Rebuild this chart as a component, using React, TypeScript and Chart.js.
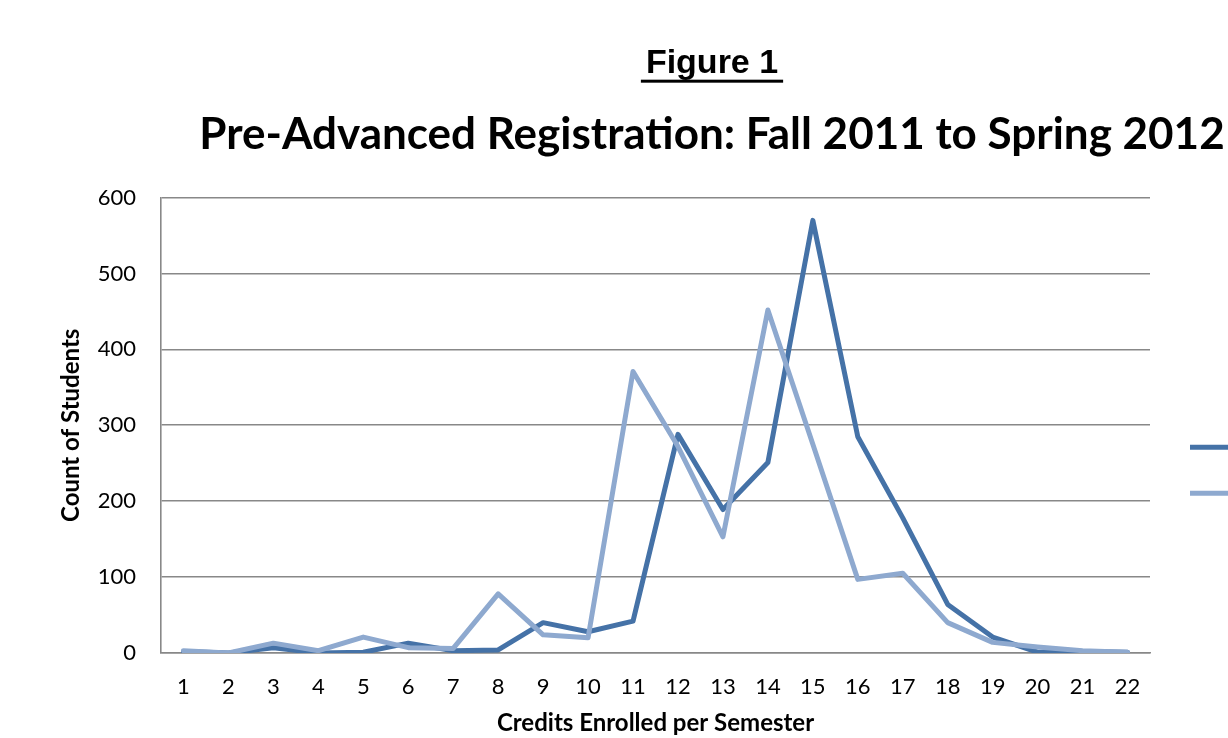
import { useEffect, useRef } from "react";
import { Chart, registerables } from "chart.js";

Chart.register(...registerables);

// Categories: credits enrolled per semester
const credits: string[] = [
  "1", "2", "3", "4", "5", "6", "7", "8", "9", "10", "11",
  "12", "13", "14", "15", "16", "17", "18", "19", "20", "21", "22",
];

// Series values (count of students)
const fall2011: number[] = [
  2, 0, 7, 0, 1, 13, 3, 4, 40, 28, 42, 288, 189, 251, 570, 285, 178, 64, 21, 1, 2, 1,
];
const spring2012: number[] = [
  3, 0, 13, 3, 21, 7, 6, 78, 24, 20, 371, 272, 153, 452, 275, 97, 105, 40, 14, 8, 3, 1,
];

const seriesNames: string[] = ["Fall 2011", "Spring 2012"];
const figureLabel = "Figure 1";
const chartTitle = "Pre-Advanced Registration: Fall 2011 to Spring 2012";
const yAxisTitle = "Count of Students";
const xAxisTitle = "Credits Enrolled per Semester";
const yMin = 0;
const yMax = 600;
const yStep = 100;

const W = 1424;
const H = 760;

export default function App() {
  const ref = useRef<HTMLCanvasElement>(null);

  useEffect(() => {
    if (!ref.current) return;

    const underline = {
      id: "figUnderline",
      afterDraw(chart: any) {
        const tb = chart.titleBlock;
        if (!tb) return;
        const ctx = chart.ctx;
        ctx.save();
        ctx.font = "bold 34px 'Liberation Sans', Arial, sans-serif";
        const w = ctx.measureText(figureLabel).width;
        const cx = (tb.left + tb.right) / 2;
        const baseline = tb.top + 43 + 40.8 / 2 + 0.3465 * 34;
        ctx.fillStyle = "#000";
        ctx.fillRect(cx - w / 2 - 5, baseline + 4.5, w + 10, 3);
        ctx.restore();
      },
    };

    const chart = new Chart(ref.current, {
      type: "line",
      data: {
        labels: credits,
        datasets: [
          {
            label: seriesNames[0],
            data: fall2011,
            borderColor: "#4572A7",
            backgroundColor: "#4572A7",
            borderWidth: 5,
            pointRadius: 0,
            pointHoverRadius: 0,
            tension: 0,
            borderCapStyle: "round",
            borderJoinStyle: "round",
            order: 1,
          },
          {
            label: seriesNames[1],
            data: spring2012,
            borderColor: "#8EA9CF",
            backgroundColor: "#8EA9CF",
            borderWidth: 5,
            pointRadius: 0,
            pointHoverRadius: 0,
            tension: 0,
            borderCapStyle: "round",
            borderJoinStyle: "round",
            order: 0,
          },
        ],
      },
      options: {
        responsive: false,
        animation: false,
        layout: { padding: { left: 0, right: 0, top: 0, bottom: 0 } },
        scales: {
          x: {
            type: "category",
            offset: true,
            grid: { display: false, drawTicks: false },
            border: { display: true, color: "#888888", width: 1.5 },
            ticks: {
              color: "#000",
              font: { family: "Lato", size: 22 },
              padding: 21,
              maxRotation: 0,
              autoSkip: false,
            },
            title: {
              display: true,
              text: xAxisTitle,
              color: "#000",
              font: { family: "Lato", size: 24, weight: "bold" },
              padding: { top: 0, bottom: 22 },
            },
            afterFit(scale: any) {
              scale.height = 107;
            },
          },
          y: {
            min: yMin,
            max: yMax,
            ticks: {
              stepSize: yStep,
              color: "#000",
              font: { family: "Lato", size: 22 },
              padding: 25,
            },
            grid: { color: "#888888", lineWidth: 1.6, drawTicks: false },
            border: { display: true, color: "#888888", width: 1.6 },
            title: {
              display: true,
              text: yAxisTitle,
              color: "#000",
              font: { family: "Lato", size: 24, weight: "bold" },
              padding: { top: 57, bottom: 0 },
            },
            afterFit(scale: any) {
              scale.width = 161;
            },
          },
        },
        plugins: {
          title: {
            display: true,
            text: figureLabel,
            color: "#000",
            font: { family: "'Liberation Sans', Arial, sans-serif", size: 34, weight: "bold", lineHeight: 1.2 },
            padding: { top: 43, bottom: 0 },
          },
          subtitle: {
            display: true,
            text: chartTitle,
            color: "#000",
            font: { family: "Lato", size: 44, weight: "bold", lineHeight: 1.2 },
            padding: { top: 25, bottom: 36 },
          },
          legend: {
            display: true,
            position: "right",
            fullSize: false,
            align: "center",
            maxWidth: 274,
            labels: {
              usePointStyle: true,
              pointStyle: "line",
              pointStyleWidth: 300,
              padding: 40,
              color: "#000",
              font: { family: "Lato", size: 6 },
              sort: (a: any, b: any) => a.datasetIndex - b.datasetIndex,
            },
            title: {
              display: true,
              text: " ",
              font: { size: 10 },
              padding: { top: 78, bottom: 0 },
            },
          },
          tooltip: { enabled: false },
        },
      },
      plugins: [underline],
    });

    return () => chart.destroy();
  }, []);

  return (
    <div
      style={{
        position: "fixed",
        left: 0,
        top: 0,
        width: 1228,
        height: 738,
        overflow: "hidden",
        background: "#fff",
      }}
    >
      <canvas ref={ref} width={W} height={H} style={{ width: W, height: H, display: "block" }} />
    </div>
  );
}
